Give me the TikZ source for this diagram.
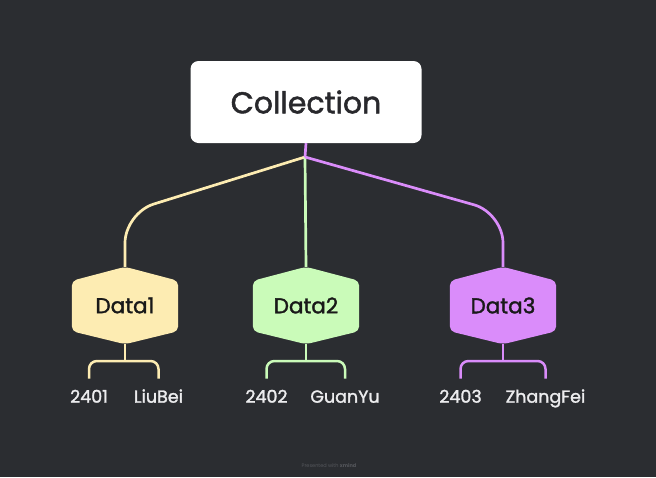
\documentclass[tikz,border=0pt]{standalone}
\usepackage{fontspec}
\setmainfont{Poppins}[FakeBold=1.6]
\newfontfamily\wmfont{Poppins}
\usetikzlibrary{calc,backgrounds}
\definecolor{bgc}{RGB}{43,45,49}
\definecolor{cy}{RGB}{253,236,178}
\definecolor{cg}{RGB}{202,251,185}
\definecolor{cp}{RGB}{218,140,250}
\definecolor{txtdark}{RGB}{40,40,44}
\definecolor{lbl}{RGB}{236,236,238}
\definecolor{wm}{RGB}{85,87,92}
\tikzset{
  rootbox/.style={fill=white, rounded corners=8pt, minimum width=231pt, minimum height=82pt, inner sep=0pt, text=txtdark, font=\fontsize{30}{36}\selectfont},
  hexnode/.style={minimum width=106pt, minimum height=77pt, inner sep=0pt, text=black!90, font=\fontsize{21.5}{26}\selectfont},
  lblnode/.style={anchor=base, inner sep=0pt, text height=11pt, text depth=0pt, text=lbl, font=\fontsize{17.5}{20}\selectfont},
  conn/.style={line width=2.7pt, rounded corners=30pt},
  brk/.style={line width=2.5pt, rounded corners=8pt},
}
\newcommand{\hexfill}[2]{%
  \fill[#2, rounded corners=5pt] (#1.north)
    -- ([yshift=-14pt]#1.north east) -- ([yshift=13pt]#1.south east)
    -- (#1.south) -- ([yshift=13pt]#1.south west)
    -- ([yshift=-14pt]#1.north west) -- cycle;}
\begin{document}
\begin{tikzpicture}[x=1pt,y=-1pt]
\useasboundingbox (0,0) rectangle (656,477);

\node[rootbox] (root) at (306,102) {Collection};
\coordinate (j) at (305,157);

\node[hexnode] (d1) at (125,305.5) {Data1};
\node[hexnode] (d2) at (306,305.5) {Data2};
\node[hexnode] (d3) at (503,305.5) {Data3};
\begin{scope}[on background layer]
\fill[bgc] (0,0) rectangle (656,477);
\hexfill{d1}{cy}
\hexfill{d2}{cg}
\hexfill{d3}{cp}
\end{scope}

\draw[conn, cy] (j) -- (125,213) -- (d1.north);
\draw[conn, cg] (j) -- (d2.north);
\draw[conn, cp] (j) -- (503,213) -- (d3.north);
\draw[line width=2.7pt, cp] (root.south) -- (j);

\coordinate (b1) at (125,361);
\coordinate (b2) at (306,361);
\coordinate (b3) at (503,361);

\node[lblnode] (a1) at (89,402.7) {2401};
\node[lblnode] (l1) at (158.5,402.7) {LiuBei};
\node[lblnode] (a2) at (266.5,402.7) {2402};
\node[lblnode] (l2) at (345,402.7) {GuanYu};
\node[lblnode] (a3) at (460.5,402.7) {2403};
\node[lblnode] (l3) at (545.5,402.7) {ZhangFei};

\draw[brk, cy] (d1.south) -- (b1);
\draw[brk, cy] ([yshift=13pt]a1.north) |- (b1) -| ([yshift=13pt]l1.north);
\draw[brk, cg] (d2.south) -- (b2);
\draw[brk, cg] ([yshift=13pt]a2.north) |- (b2) -| ([yshift=13pt]l2.north);
\draw[brk, cp] (d3.south) -- (b3);
\draw[brk, cp] ([yshift=13pt]a3.north) |- (b3) -| ([yshift=13pt]l3.north);

\node[text=wm, font=\wmfont\fontsize{5}{6}\selectfont, inner sep=0pt] (wmk) at (329,466) {Presented with \textbf{xmind}};
\end{tikzpicture}
\end{document}
